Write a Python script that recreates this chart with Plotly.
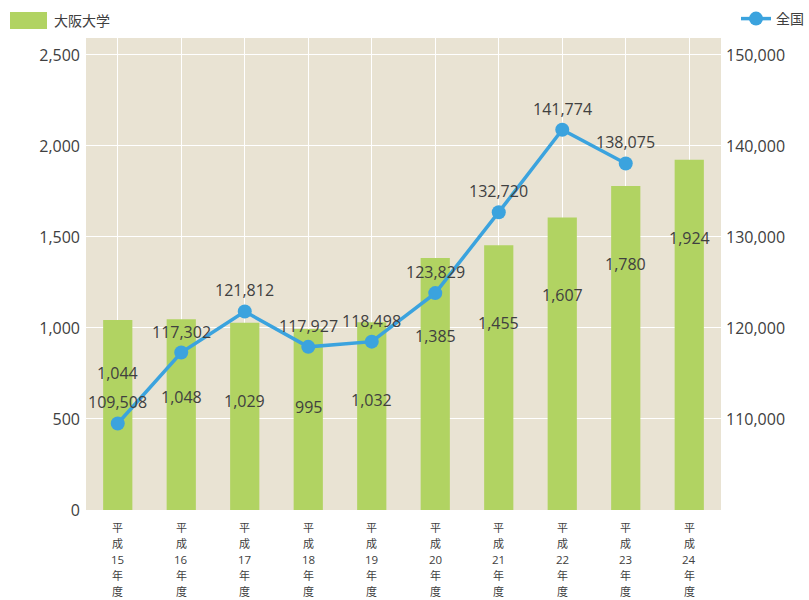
import plotly.graph_objects as go

categories = ["平成15年度", "平成16年度", "平成17年度", "平成18年度", "平成19年度",
              "平成20年度", "平成21年度", "平成22年度", "平成23年度", "平成24年度"]
tick_labels = [["平", "成", "15", "年", "度"], ["平", "成", "16", "年", "度"], ["平", "成", "17", "年", "度"],
               ["平", "成", "18", "年", "度"], ["平", "成", "19", "年", "度"], ["平", "成", "20", "年", "度"],
               ["平", "成", "21", "年", "度"], ["平", "成", "22", "年", "度"], ["平", "成", "23", "年", "度"],
               ["平", "成", "24", "年", "度"]]
osaka = [1044, 1048, 1029, 995, 1032, 1385, 1455, 1607, 1780, 1924]
national = [109508, 117302, 121812, 117927, 118498, 123829, 132720, 141774, 138075, None]
left_ticks = [0, 500, 1000, 1500, 2000, 2500]
right_ticks = [110000, 120000, 130000, 140000, 150000]

FONT = "Open Sans, Noto Sans CJK JP"
CJK = "Noto Sans CJK JP"
TXT = "#404040"
BAR = "#b1d362"
LINE = "#3ba3de"
BG = "#e9e3d3"

# plot-area geometry in pixels (used to place paper-referenced legend box)
W, H = 809, 600
ML, MR, MT, MB = 86, 88, 38, 90
PW, PH = W - ML - MR, H - MT - MB


def px_x(x):
    return (x - ML) / PW


def px_y(y):
    return 1 + (MT - y) / PH


fig = go.Figure()
fig.add_trace(go.Bar(x=categories, y=osaka, name="大阪大学", marker=dict(color=BAR, line=dict(width=0)),
                     showlegend=False, hoverinfo="skip"))
fig.add_trace(go.Scatter(x=categories, y=national, name="全国", yaxis="y2", mode="lines+markers",
                         line=dict(color=LINE, width=3.5), marker=dict(color=LINE, size=14),
                         legend="legend2", showlegend=True, hoverinfo="skip", cliponaxis=False))

annotations = []
for i, (c, v) in enumerate(zip(categories, osaka)):
    annotations.append(dict(x=c, y=v, xref="x", yref="y", text=f"{v:,}", showarrow=False,
                            yshift=-53 if i == 0 else -78,
                            font=dict(family=FONT, size=16, color=TXT)))
for c, v in zip(categories, national):
    if v is None:
        continue
    annotations.append(dict(x=c, y=v, xref="x", yref="y2", text=f"{v:,}", showarrow=False,
                            yshift=21, font=dict(family=FONT, size=16, color=TXT)))
# vertical category labels, one line per annotation
for c, lines in zip(categories, tick_labels):
    for k, s in enumerate(lines):
        is_num = s.isdigit()
        annotations.append(dict(x=c, y=0, xref="x", yref="paper", text=s, showarrow=False,
                                yanchor="middle", yshift=-(17 + 16 * k), borderpad=0,
                                font=dict(family="Open Sans" if is_num else CJK,
                                          size=11.5 if is_num else 11, color=TXT)))
# bar legend entry
annotations.append(dict(x=px_x(52), y=px_y(20), xref="paper", yref="paper", text="大阪大学",
                        showarrow=False, xanchor="left", yanchor="middle",
                        font=dict(family=CJK, size=14, color=TXT)))

fig.update_layout(
    width=W, height=H,
    margin=dict(l=ML, r=MR, t=MT, b=MB, autoexpand=False),
    paper_bgcolor="white", plot_bgcolor=BG,
    font=dict(family=FONT, size=16, color=TXT),
    showlegend=True,
    bargap=0.54,
    annotations=annotations,
    shapes=[dict(type="rect", xref="paper", yref="paper", x0=px_x(10), x1=px_x(47), y0=px_y(29), y1=px_y(12),
                 fillcolor=BAR, line=dict(width=0))],
    legend2=dict(x=1.0, xanchor="right", y=0.995, yanchor="top", xref="container", yref="container",
                 font=dict(family=CJK, size=14, color=TXT), bgcolor="rgba(0,0,0,0)"),
    xaxis=dict(tickvals=categories, range=[-0.5, len(categories) - 0.5], showticklabels=False,
               showgrid=True, gridcolor="white", gridwidth=1,
               ticks="", showline=False, zeroline=False, automargin=False),
    yaxis=dict(range=[0, 2593], tickvals=left_ticks, tickformat=",", showgrid=True, gridcolor="white",
               gridwidth=1, zeroline=False, showline=False, ticks="", automargin=False,
               ticklabelstandoff=5, tickfont=dict(family=FONT, size=16, color=TXT)),
    yaxis2=dict(range=[100000, 151860], overlaying="y", side="right", tickvals=right_ticks, tickformat=",",
                showgrid=False, zeroline=False, showline=False, ticks="", automargin=False,
                ticklabelstandoff=4, tickfont=dict(family=FONT, size=16, color=TXT)),
)

fig.write_html("out.html")
